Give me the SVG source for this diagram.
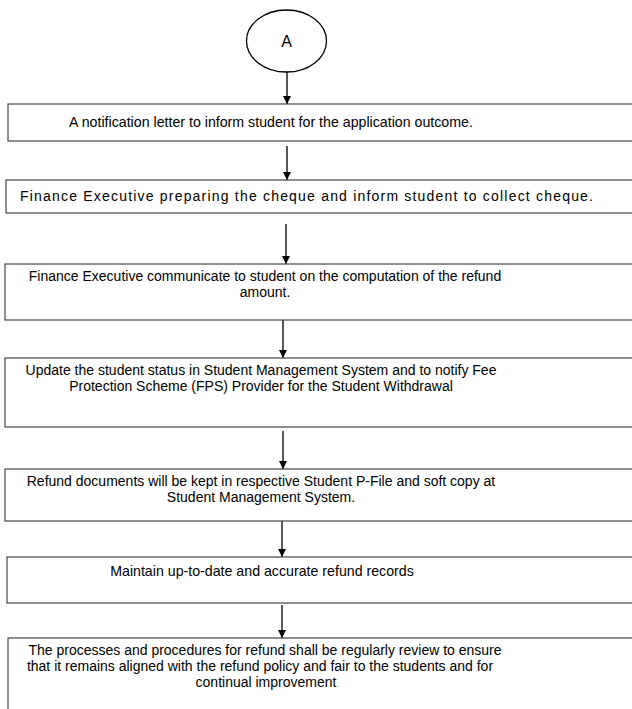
<svg xmlns="http://www.w3.org/2000/svg" width="632" height="709" viewBox="0 0 632 709">
<defs>
<marker id="ah" markerWidth="8" markerHeight="10" refX="8" refY="4" orient="auto" markerUnits="userSpaceOnUse">
<path d="M0,0 L8,4 L0,8 Z" fill="#000"/>
</marker>
<style>
.box{fill:#fff;stroke:#444;stroke-width:1.2}
.t{font-family:"Liberation Sans",Arial,sans-serif;font-size:14px;fill:#000;text-anchor:middle}
.c{stroke:#000;stroke-width:1.3;fill:none;marker-end:url(#ah)}
</style>
</defs>
<rect width="632" height="709" fill="#fff"/>
<g id="connectors">
<line class="c" x1="287" y1="72" x2="287" y2="104"/>
<line class="c" x1="287" y1="146" x2="287" y2="180"/>
<line class="c" x1="286" y1="224" x2="286" y2="264"/>
<line class="c" x1="283" y1="320" x2="283" y2="358"/>
<line class="c" x1="283" y1="431" x2="283" y2="469"/>
<line class="c" x1="282" y1="521" x2="282" y2="557"/>
<line class="c" x1="282" y1="605" x2="282" y2="638"/>
</g>
<g id="nodeA">
<ellipse cx="286.5" cy="41" rx="40" ry="31" fill="#fff" stroke="#000" stroke-width="1.3"/>
<text class="t" x="286.5" y="47" style="font-size:16px">A</text>
</g>
<g id="node1">
<rect class="box" x="8" y="104" width="640" height="37"/>
<text class="t" x="271" y="127" style="font-size:14.2px">A notification letter to inform student for the application outcome.</text>
</g>
<g id="node2">
<rect class="box" x="6" y="180" width="640" height="33"/>
<text class="t" x="20" y="201" style="text-anchor:start" textLength="573" lengthAdjust="spacing">Finance Executive preparing the cheque and inform student to collect cheque.</text>
</g>
<g id="node3">
<rect class="box" x="5" y="264" width="640" height="56"/>
<text class="t" x="265" y="281">Finance Executive communicate to student on the computation of the refund</text>
<text class="t" x="265" y="297">amount.</text>
</g>
<g id="node4">
<rect class="box" x="5" y="358" width="640" height="69"/>
<text class="t" x="261" y="375">Update the student status in Student Management System and to notify Fee</text>
<text class="t" x="261" y="391">Protection Scheme (FPS) Provider for the Student Withdrawal</text>
</g>
<g id="node5">
<rect class="box" x="5" y="469" width="640" height="52"/>
<text class="t" x="261" y="486">Refund documents will be kept in respective Student P-File and soft copy at</text>
<text class="t" x="261" y="502">Student Management System.</text>
</g>
<g id="node6">
<rect class="box" x="7" y="557" width="640" height="46"/>
<text class="t" x="262" y="576" style="font-size:14.2px">Maintain up-to-date and accurate refund records</text>
</g>
<g id="node7">
<rect class="box" x="8" y="638" width="640" height="90"/>
<text class="t" x="265" y="655">The processes and procedures for refund shall be regularly review to ensure</text>
<text class="t" x="260" y="671">that it remains aligned with the refund policy and fair to the students and for</text>
<text class="t" x="266" y="687">continual improvement</text>
</g>
</svg>
